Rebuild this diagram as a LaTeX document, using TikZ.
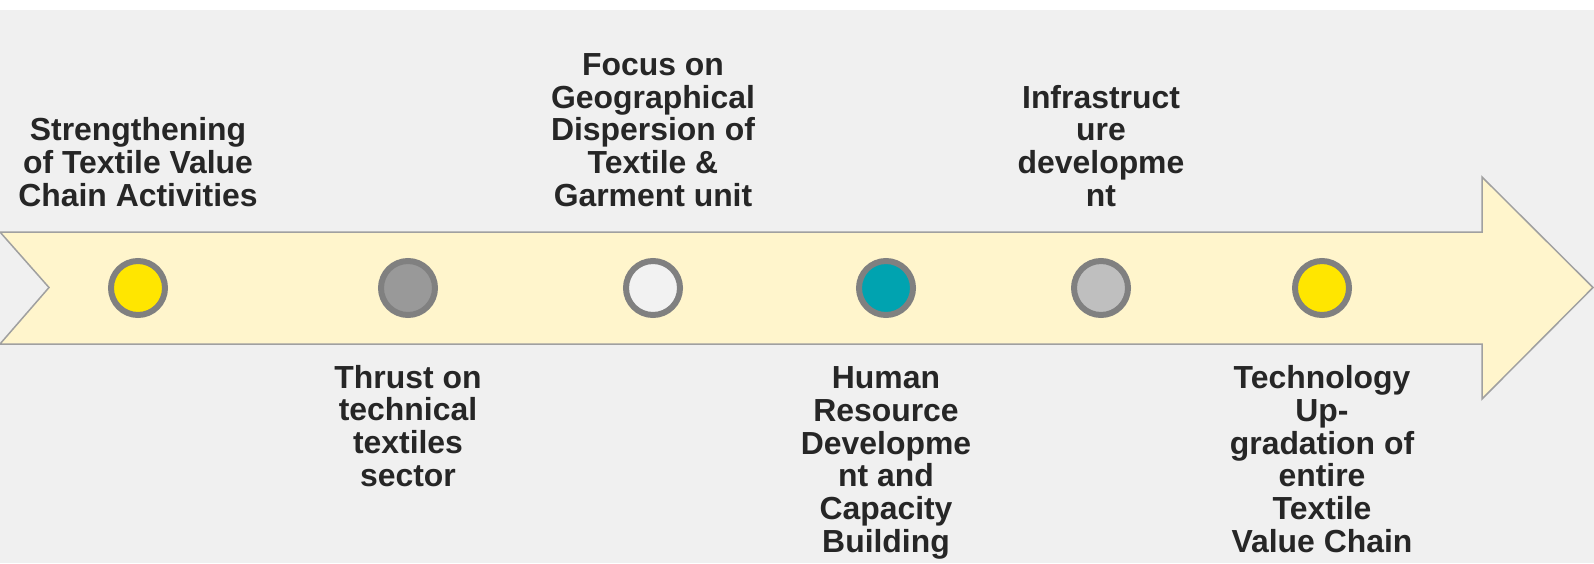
\documentclass[tikz,border=0pt]{standalone}
\usepackage{fontspec}
\setmainfont{Liberation Sans}
\usetikzlibrary{positioning}

\definecolor{pagegray}{RGB}{240,240,240}
\definecolor{bandfill}{RGB}{255,245,204}
\definecolor{bandline}{RGB}{160,160,160}
\definecolor{ringgray}{RGB}{128,128,128}
\definecolor{textgray}{RGB}{38,38,38}
\definecolor{stageyellow}{RGB}{255,230,0}
\definecolor{stagegray}{RGB}{153,153,153}
\definecolor{stagelight}{RGB}{242,242,242}
\definecolor{stageteal}{RGB}{0,163,176}
\definecolor{stagesilver}{RGB}{191,191,191}

\tikzset{
  milestone/.style={circle,draw=ringgray,line width=6pt,minimum size=54pt,inner sep=0pt},
  stagetext/.style={align=center,anchor=base,inner sep=0pt,text=textgray,
    font=\fontsize{31.9}{32.8}\selectfont\bfseries}
}

\begin{document}
\begin{tikzpicture}[x=1pt,y=-1pt]

  \useasboundingbox (0,0) rectangle (1594,563);
  \fill[white] (0,0) rectangle (1594,563);
  \fill[pagegray] (0,10) rectangle (1594,563);

  % the band
  \draw[bandline,fill=bandfill,line width=1.5pt,line join=miter]
    (0,232) -- (1482,232) -- (1482,177) -- (1593,287.5) -- (1482,399)
    -- (1482,344) -- (0,344) -- (49,287.5) -- cycle;

  \node[milestone,fill=stageyellow] (dot1) at (138,288) {};
  \node[milestone,fill=stagegray]   (dot2) at (408,288) {};
  \node[milestone,fill=stagelight]  (dot3) at (653,288) {};
  \node[milestone,fill=stageteal]   (dot4) at (886,288) {};
  \node[milestone,fill=stagesilver] (dot5) at (1101,288) {};
  \node[milestone,fill=stageyellow] (dot6) at (1322,288) {};

  % above the band (anchored on the last line)
  \node[stagetext] (txt1) at (138,206.5) {Strengthening\\of Textile Value\\Chain Activities};
  \node[stagetext] (txt3) at (653,206.5) {Focus on\\Geographical\\Dispersion of\\Textile \&\\Garment unit};
  \node[stagetext] (txt5) at (1101,206.5) {Infrastruct\\ure\\developme\\nt};

  % below the band
  \node[stagetext] (txt2) at (408,486.5) {Thrust on\\technical\\textiles\\sector};
  \node[stagetext] (txt4) at (886,552.5) {Human\\Resource\\Developme\\nt and\\Capacity\\Building};
  \node[stagetext] (txt6) at (1322,552.5) {Technology\\Up-\\gradation of\\entire\\Textile\\Value Chain};

\end{tikzpicture}
\end{document}
